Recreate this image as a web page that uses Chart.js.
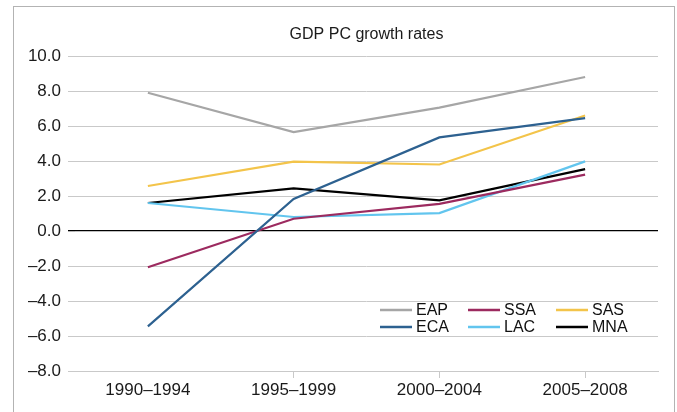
<!DOCTYPE html>
<html>
<head>
<meta charset="utf-8">
<script src="https://cdn.jsdelivr.net/npm/chart.js@4.4.1/dist/chart.umd.min.js"></script>
<style>
  html, body { margin: 0; padding: 0; background: #fff; }
  #wrap { position: relative; width: 677px; height: 412px; }
  #frame {
    position: absolute; left: 13px; top: 6px; width: 660px; height: 430px;
    border: 1.5px solid #b3b3b3; border-bottom: none; pointer-events: none;
  }
</style>
</head>
<body>
<div id="wrap">
  <canvas id="gdpChart" width="677" height="412"></canvas>
  <div id="frame"></div>
</div>
<script>
// GDP per capita growth rates by region

const chartTitle = 'GDP PC growth rates';
const periods = ['1990–1994', '1995–1999', '2000–2004', '2005–2008'];

const eap = [7.9, 5.65, 7.05, 8.8];
const eca = [-5.45, 1.83, 5.35, 6.45];
const ssa = [-2.07, 0.7, 1.55, 3.22];
const lac = [1.6, 0.8, 1.02, 3.98];
const sas = [2.57, 3.96, 3.8, 6.6];
const mna = [1.6, 2.44, 1.75, 3.54];

const yMin = -8;
const yMax = 10;
const yStep = 2;

const FONT = '"Liberation Sans", Arial, sans-serif';
const GRID = '#c9c9c9';

function series(label, data, color) {
    return {
        label: label,
        data: data,
        borderColor: color,
        backgroundColor: color,
        borderWidth: 2.2,
        pointRadius: 0,
        tension: 0
    };
}

// Title centred over the plot area (not the whole canvas)
const plotTitle = {
    id: 'plotTitle',
    afterDraw(chart, args, opts) {
        const ctx = chart.ctx;
        const area = chart.chartArea;
        ctx.save();
        ctx.font = opts.fontSize + 'px ' + FONT;
        ctx.fillStyle = '#1a1a1a';
        ctx.textAlign = 'center';
        ctx.textBaseline = 'middle';
        ctx.fillText(opts.text, (area.left + area.right) / 2, opts.y);
        ctx.restore();
    }
};

// Legend drawn inside the plot area, two rows of three
const insideLegend = {
    id: 'insideLegend',
    afterDatasetsDraw(chart, args, opts) {
        const ctx = chart.ctx;
        ctx.save();
        ctx.font = opts.fontSize + 'px ' + FONT;
        ctx.textBaseline = 'middle';
        ctx.textAlign = 'left';
        chart.data.datasets.forEach((ds, i) => {
            const slot = opts.slots[i];
            const x = opts.x0 + slot[0] * opts.colWidth;
            const y = opts.y0 + slot[1] * opts.rowHeight;
            ctx.strokeStyle = ds.borderColor;
            ctx.lineWidth = 2.5;
            ctx.beginPath();
            ctx.moveTo(x, y);
            ctx.lineTo(x + opts.lineLen, y);
            ctx.stroke();
            ctx.fillStyle = '#111';
            ctx.fillText(ds.label, x + opts.lineLen + 4, y + 1);
        });
        ctx.restore();
    }
};

new Chart(document.getElementById('gdpChart'), {
    type: 'line',
    data: {
        labels: periods,
        datasets: [
            series('EAP', eap, '#a6a6a6'),
            series('ECA', eca, '#2d6190'),
            series('SSA', ssa, '#9c2a5f'),
            series('LAC', lac, '#62c5ee'),
            series('SAS', sas, '#f3c44a'),
            series('MNA', mna, '#000000')
        ]
    },
    plugins: [insideLegend, plotTitle],
    options: {
        responsive: false,
        animation: false,
        layout: {
            padding: { left: 13, right: 19, top: 56, bottom: 12 }
        },
        plugins: {
            legend: { display: false },
            tooltip: { enabled: false },
            title: { display: false },
            plotTitle: {
                text: chartTitle,
                fontSize: 16,
                y: 35
            },
            insideLegend: {
                fontSize: 16,
                x0: 380,
                y0: 310,
                colWidth: 88,
                rowHeight: 17,
                lineLen: 32,
                // [column, row] per dataset
                slots: [[0, 0], [0, 1], [1, 0], [1, 1], [2, 0], [2, 1]]
            }
        },
        scales: {
            x: {
                offset: true,
                border: { display: true, color: GRID },
                grid: {
                    display: true,
                    drawOnChartArea: false,
                    tickLength: 7,
                    color: (c) => (c.type === 'tick' && c.index > 0) ? GRID : 'rgba(0,0,0,0)'
                },
                ticks: {
                    color: '#1a1a1a',
                    padding: 2,
                    maxRotation: 0,
                    font: { family: FONT, size: 17 }
                },
                afterFit: (scale) => { scale.height = 29; }
            },
            y: {
                min: yMin,
                max: yMax,
                border: { display: false },
                grid: {
                    tickLength: 7,
                    color: (c) => c.tick && c.tick.value === 0 ? '#000' : GRID,
                    lineWidth: (c) => c.tick && c.tick.value === 0 ? 1.3 : 1
                },
                ticks: {
                    stepSize: yStep,
                    color: '#1a1a1a',
                    padding: 7,
                    font: { family: FONT, size: 17 },
                    callback: (v) => (v < 0 ? '\u2013' + Math.abs(v).toFixed(1) : v.toFixed(1))
                },
                afterFit: (scale) => { scale.width = 62; }
            }
        }
    }
});
</script>
</body>
</html>
